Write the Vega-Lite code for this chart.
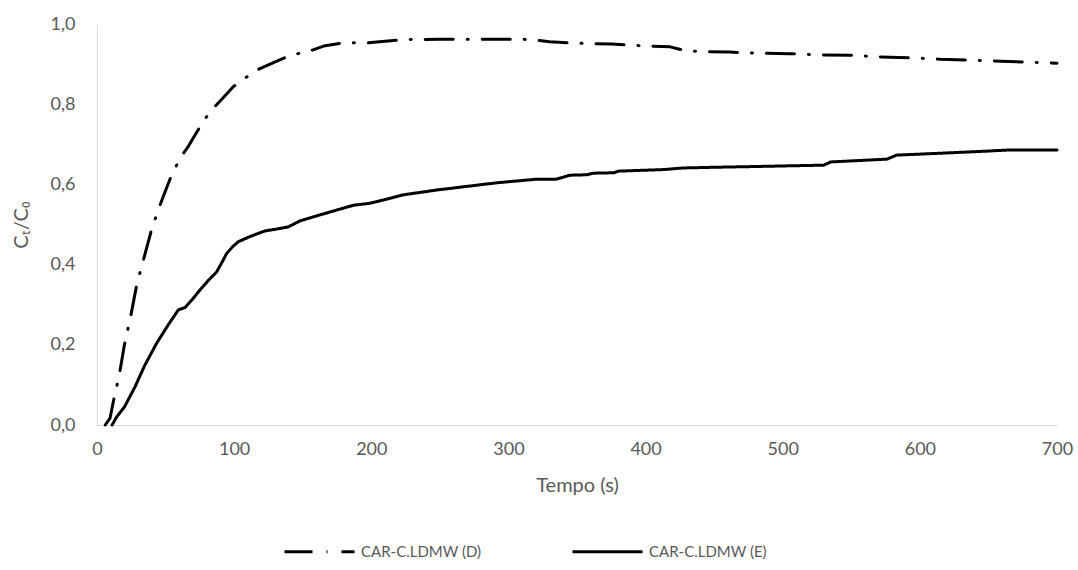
{
  "$schema": "https://vega.github.io/schema/vega-lite/v6.json",
  "autosize": "none",
  "width": 960,
  "height": 401,
  "padding": {"left": 97, "top": 24, "right": 21, "bottom": 145},
  "background": "white",
  "config": {
    "view": {"stroke": null},
    "font": "Lato",
    "axis": {
      "domainColor": "#d9d9d9",
      "domainWidth": 1,
      "grid": false,
      "ticks": false,
      "tickSize": 0,
      "labelColor": "#595959",
      "titleColor": "#595959",
      "labelFont": "Lato",
      "titleFont": "Lato",
      "labelFontSize": 18,
      "titleFontSize": 20,
      "titleFontWeight": "normal"
    },
    "legend": {
      "labelFont": "Lato",
      "labelFontSize": 15,
      "labelColor": "#595959",
      "symbolStrokeColor": "black",
      "symbolStrokeWidth": 3,
      "symbolType": "stroke",
      "symbolSize": 4900,
      "padding": 0,
      "labelOffset": 5,
      "columnPadding": 84
    }
  },
  "data": {
    "values": [
      {"t": 6, "v": 0, "serie": "CAR-C.LDMW (D)"},
      {"t": 9.5, "v": 0.017, "serie": "CAR-C.LDMW (D)"},
      {"t": 12, "v": 0.06, "serie": "CAR-C.LDMW (D)"},
      {"t": 16.3, "v": 0.125, "serie": "CAR-C.LDMW (D)"},
      {"t": 20, "v": 0.2, "serie": "CAR-C.LDMW (D)"},
      {"t": 24.5, "v": 0.27, "serie": "CAR-C.LDMW (D)"},
      {"t": 29, "v": 0.35, "serie": "CAR-C.LDMW (D)"},
      {"t": 34.5, "v": 0.42, "serie": "CAR-C.LDMW (D)"},
      {"t": 40, "v": 0.49, "serie": "CAR-C.LDMW (D)"},
      {"t": 47.2, "v": 0.56, "serie": "CAR-C.LDMW (D)"},
      {"t": 54, "v": 0.62, "serie": "CAR-C.LDMW (D)"},
      {"t": 60.5, "v": 0.665, "serie": "CAR-C.LDMW (D)"},
      {"t": 66.6, "v": 0.695, "serie": "CAR-C.LDMW (D)"},
      {"t": 72.7, "v": 0.73, "serie": "CAR-C.LDMW (D)"},
      {"t": 78, "v": 0.76, "serie": "CAR-C.LDMW (D)"},
      {"t": 84.8, "v": 0.79, "serie": "CAR-C.LDMW (D)"},
      {"t": 91.7, "v": 0.815, "serie": "CAR-C.LDMW (D)"},
      {"t": 99.5, "v": 0.844, "serie": "CAR-C.LDMW (D)"},
      {"t": 108, "v": 0.865, "serie": "CAR-C.LDMW (D)"},
      {"t": 116.5, "v": 0.885, "serie": "CAR-C.LDMW (D)"},
      {"t": 126.2, "v": 0.9, "serie": "CAR-C.LDMW (D)"},
      {"t": 138.4, "v": 0.918, "serie": "CAR-C.LDMW (D)"},
      {"t": 145, "v": 0.925, "serie": "CAR-C.LDMW (D)"},
      {"t": 155.4, "v": 0.933, "serie": "CAR-C.LDMW (D)"},
      {"t": 166.3, "v": 0.946, "serie": "CAR-C.LDMW (D)"},
      {"t": 179.6, "v": 0.953, "serie": "CAR-C.LDMW (D)"},
      {"t": 197.9, "v": 0.953, "serie": "CAR-C.LDMW (D)"},
      {"t": 210, "v": 0.957, "serie": "CAR-C.LDMW (D)"},
      {"t": 225, "v": 0.961, "serie": "CAR-C.LDMW (D)"},
      {"t": 250, "v": 0.962, "serie": "CAR-C.LDMW (D)"},
      {"t": 280, "v": 0.962, "serie": "CAR-C.LDMW (D)"},
      {"t": 310, "v": 0.962, "serie": "CAR-C.LDMW (D)"},
      {"t": 320, "v": 0.96, "serie": "CAR-C.LDMW (D)"},
      {"t": 330, "v": 0.956, "serie": "CAR-C.LDMW (D)"},
      {"t": 350, "v": 0.952, "serie": "CAR-C.LDMW (D)"},
      {"t": 375, "v": 0.95, "serie": "CAR-C.LDMW (D)"},
      {"t": 400, "v": 0.945, "serie": "CAR-C.LDMW (D)"},
      {"t": 418, "v": 0.943, "serie": "CAR-C.LDMW (D)"},
      {"t": 427, "v": 0.935, "serie": "CAR-C.LDMW (D)"},
      {"t": 440, "v": 0.931, "serie": "CAR-C.LDMW (D)"},
      {"t": 461, "v": 0.93, "serie": "CAR-C.LDMW (D)"},
      {"t": 483, "v": 0.927, "serie": "CAR-C.LDMW (D)"},
      {"t": 505, "v": 0.926, "serie": "CAR-C.LDMW (D)"},
      {"t": 527, "v": 0.923, "serie": "CAR-C.LDMW (D)"},
      {"t": 549, "v": 0.922, "serie": "CAR-C.LDMW (D)"},
      {"t": 571, "v": 0.918, "serie": "CAR-C.LDMW (D)"},
      {"t": 593, "v": 0.916, "serie": "CAR-C.LDMW (D)"},
      {"t": 615, "v": 0.912, "serie": "CAR-C.LDMW (D)"},
      {"t": 637, "v": 0.91, "serie": "CAR-C.LDMW (D)"},
      {"t": 659, "v": 0.907, "serie": "CAR-C.LDMW (D)"},
      {"t": 680, "v": 0.905, "serie": "CAR-C.LDMW (D)"},
      {"t": 700, "v": 0.902, "serie": "CAR-C.LDMW (D)"},
      {"t": 11, "v": 0, "serie": "CAR-C.LDMW (E)"},
      {"t": 14.3, "v": 0.02, "serie": "CAR-C.LDMW (E)"},
      {"t": 20, "v": 0.045, "serie": "CAR-C.LDMW (E)"},
      {"t": 27.7, "v": 0.095, "serie": "CAR-C.LDMW (E)"},
      {"t": 35, "v": 0.15, "serie": "CAR-C.LDMW (E)"},
      {"t": 43.5, "v": 0.204, "serie": "CAR-C.LDMW (E)"},
      {"t": 52, "v": 0.25, "serie": "CAR-C.LDMW (E)"},
      {"t": 59.3, "v": 0.287, "serie": "CAR-C.LDMW (E)"},
      {"t": 64.2, "v": 0.293, "serie": "CAR-C.LDMW (E)"},
      {"t": 70, "v": 0.315, "serie": "CAR-C.LDMW (E)"},
      {"t": 75.1, "v": 0.337, "serie": "CAR-C.LDMW (E)"},
      {"t": 81, "v": 0.36, "serie": "CAR-C.LDMW (E)"},
      {"t": 87.3, "v": 0.382, "serie": "CAR-C.LDMW (E)"},
      {"t": 91, "v": 0.405, "serie": "CAR-C.LDMW (E)"},
      {"t": 94.6, "v": 0.428, "serie": "CAR-C.LDMW (E)"},
      {"t": 99, "v": 0.445, "serie": "CAR-C.LDMW (E)"},
      {"t": 103, "v": 0.457, "serie": "CAR-C.LDMW (E)"},
      {"t": 111.6, "v": 0.47, "serie": "CAR-C.LDMW (E)"},
      {"t": 122.5, "v": 0.484, "serie": "CAR-C.LDMW (E)"},
      {"t": 130, "v": 0.488, "serie": "CAR-C.LDMW (E)"},
      {"t": 139.5, "v": 0.494, "serie": "CAR-C.LDMW (E)"},
      {"t": 148, "v": 0.509, "serie": "CAR-C.LDMW (E)"},
      {"t": 162.7, "v": 0.524, "serie": "CAR-C.LDMW (E)"},
      {"t": 174.8, "v": 0.536, "serie": "CAR-C.LDMW (E)"},
      {"t": 187, "v": 0.548, "serie": "CAR-C.LDMW (E)"},
      {"t": 199, "v": 0.553, "serie": "CAR-C.LDMW (E)"},
      {"t": 210, "v": 0.562, "serie": "CAR-C.LDMW (E)"},
      {"t": 223.4, "v": 0.574, "serie": "CAR-C.LDMW (E)"},
      {"t": 247.8, "v": 0.586, "serie": "CAR-C.LDMW (E)"},
      {"t": 272, "v": 0.596, "serie": "CAR-C.LDMW (E)"},
      {"t": 291.5, "v": 0.604, "serie": "CAR-C.LDMW (E)"},
      {"t": 320.6, "v": 0.613, "serie": "CAR-C.LDMW (E)"},
      {"t": 335, "v": 0.613, "serie": "CAR-C.LDMW (E)"},
      {"t": 345, "v": 0.623, "serie": "CAR-C.LDMW (E)"},
      {"t": 357, "v": 0.624, "serie": "CAR-C.LDMW (E)"},
      {"t": 362, "v": 0.628, "serie": "CAR-C.LDMW (E)"},
      {"t": 377, "v": 0.629, "serie": "CAR-C.LDMW (E)"},
      {"t": 380, "v": 0.633, "serie": "CAR-C.LDMW (E)"},
      {"t": 413, "v": 0.637, "serie": "CAR-C.LDMW (E)"},
      {"t": 427.7, "v": 0.641, "serie": "CAR-C.LDMW (E)"},
      {"t": 454, "v": 0.643, "serie": "CAR-C.LDMW (E)"},
      {"t": 471, "v": 0.644, "serie": "CAR-C.LDMW (E)"},
      {"t": 530, "v": 0.648, "serie": "CAR-C.LDMW (E)"},
      {"t": 535, "v": 0.656, "serie": "CAR-C.LDMW (E)"},
      {"t": 576, "v": 0.663, "serie": "CAR-C.LDMW (E)"},
      {"t": 583, "v": 0.673, "serie": "CAR-C.LDMW (E)"},
      {"t": 617, "v": 0.678, "serie": "CAR-C.LDMW (E)"},
      {"t": 649, "v": 0.683, "serie": "CAR-C.LDMW (E)"},
      {"t": 666, "v": 0.686, "serie": "CAR-C.LDMW (E)"},
      {"t": 700, "v": 0.686, "serie": "CAR-C.LDMW (E)"}
    ]
  },
  "mark": {"type": "line", "color": "black", "strokeWidth": 3, "strokeCap": "round", "strokeJoin": "round"},
  "encoding": {
    "x": {
      "field": "t",
      "type": "quantitative",
      "scale": {"domain": [0, 700], "nice": false, "zero": true},
      "axis": {"title": "Tempo (s)", "values": [0, 100, 200, 300, 400, 500, 600, 700], "labelPadding": 15, "titlePadding": 17, "labelFlush": false}
    },
    "y": {
      "field": "v",
      "type": "quantitative",
      "scale": {"domain": [0, 1], "nice": false},
      "axis": {
        "title": "Cₜ/C₀",
        "values": [0, 0.2, 0.4, 0.6, 0.8, 1.0],
        "labelExpr": "replace(format(datum.value, '.1f'), '.', ',')",
        "labelPadding": 22,
        "titlePadding": 19,
        "labelFlush": false
      }
    },
    "strokeDash": {
      "field": "serie",
      "type": "nominal",
      "scale": {
        "domain": ["CAR-C.LDMW (D)", "CAR-C.LDMW (E)"],
        "range": [[28, 14, 1, 14], [1, 0]]
      },
      "legend": {"title": null, "orient": "none", "direction": "horizontal", "legendX": 186, "legendY": 491}
    }
  }
}
